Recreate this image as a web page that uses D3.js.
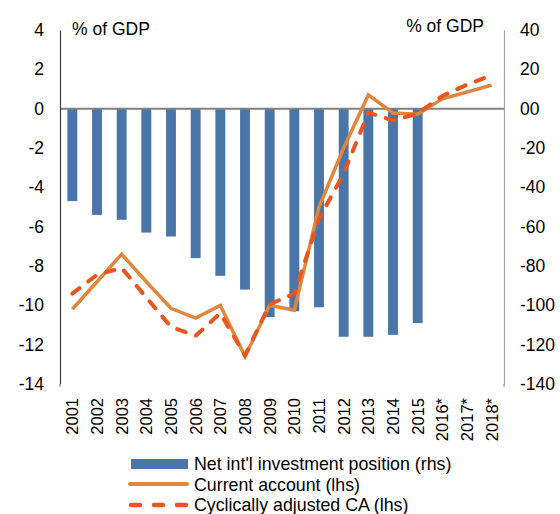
<!DOCTYPE html>
<html>
<head>
<meta charset="utf-8">
<script src="https://cdn.jsdelivr.net/npm/d3@7"></script>
<style>
body { margin: 0; background: #fff; }
svg text { font-family: "Liberation Sans", Arial, sans-serif; fill: #000; }
</style>
</head>
<body>
<div id="chart"></div>
<script>
// values
let years = ["2001","2002","2003","2004","2005","2006","2007","2008","2009","2010","2011","2012","2013","2014","2015","2016*","2017*","2018*"];
let niip = [-47,-54,-56.5,-63,-65,-76,-85,-92,-106,-103,-101,-116,-116,-115,-109,null,null,null];
let currentAccount = [-10.2,-8.8,-7.4,-8.8,-10.15,-10.65,-10.0,-12.6,-10.0,-10.25,-5.0,-2.0,0.7,-0.22,-0.28,0.5,0.85,1.2];
let cyclicalCA = [-9.4,-8.45,-8.1,-9.6,-11.1,-11.55,-10.4,-12.55,-9.95,-9.4,-5.6,-3.3,-0.2,-0.6,-0.25,0.65,1.22,1.7];
let leftTicks = [4,2,0,-2,-4,-6,-8,-10,-12,-14];
let rightTicks = [40,20,0,-20,-40,-60,-80,-100,-120,-140];
let rightTickLabels = ["40","20","00","-20","-40","-60","-80","-100","-120","-140"];
let legendItems = ["Net int'l investment position (rhs)", "Current account (lhs)", "Cyclically adjusted CA (lhs)"];

let width = 560, height = 514;
let plotLeft = 60, plotRight = 504, plotTop = 30, plotBottom = 384;

let svg = d3.select("#chart").append("svg")
.attr("width", width)
.attr("height", height);

let x = d3.scaleBand()
.domain(years)
.range([plotLeft, plotRight])
.padding(0);

let yL = d3.scaleLinear().domain([-14, 4]).range([plotBottom, plotTop]);
let yR = d3.scaleLinear().domain([-140, 40]).range([plotBottom, plotTop]);

// bars
let barW = x.bandwidth() * 0.4;
svg.selectAll("rect.bar")
.data(years.map((d, i) => ({ year: d, v: niip[i] })).filter(d => d.v != null))
.enter()
.append("rect")
.attr("class", "bar")
.attr("x", d => x(d.year) + x.bandwidth() / 2 - barW / 2)
.attr("y", yR(0))
.attr("width", barW)
.attr("height", d => yR(d.v) - yR(0))
.attr("fill", "#4a75a8");

// zero line
svg.append("line")
.attr("x1", plotLeft).attr("x2", plotRight)
.attr("y1", yL(0)).attr("y2", yL(0))
.attr("stroke", "#808080")
.attr("stroke-width", 2);

// axes
let axisL = d3.axisLeft(yL).tickValues(leftTicks).tickSize(0).tickPadding(16).tickFormat(d => String(d));
let gL = svg.append("g").attr("transform", `translate(${plotLeft},0)`).call(axisL);
gL.select(".domain").attr("stroke", "#404040").attr("stroke-width", 1.2);
gL.selectAll("text").style("font-size", "17.5px").attr("font-family", null);

let axisR = d3.axisRight(yR).tickValues(rightTicks).tickSize(0).tickPadding(16)
.tickFormat((d, i) => rightTickLabels[i]);
let gR = svg.append("g").attr("transform", `translate(${plotRight},0)`).call(axisR);
gR.select(".domain").attr("stroke", "#a6a6a6").attr("stroke-width", 1.2);
gR.selectAll("text").style("font-size", "17.5px").attr("font-family", null);

// small end ticks at the bottom
[plotLeft, plotRight].forEach(px => {
	svg.append("line").attr("x1", px).attr("x2", px).attr("y1", plotBottom).attr("y2", plotBottom + 3)
	.attr("stroke", "#808080");
});

// x labels
svg.selectAll("text.year")
.data(years)
.enter()
.append("text")
.attr("class", "year")
.attr("transform", d => `translate(${x(d) + x.bandwidth() / 2 + 6},398) rotate(-90)`)
.attr("text-anchor", "end")
.style("font-size", "16.5px")
.text(d => d);

// lines
let lineL = d3.line()
.x((d, i) => x(years[i]) + x.bandwidth() / 2)
.y(d => yL(d));

svg.append("path")
.datum(currentAccount)
.attr("d", lineL)
.attr("fill", "none")
.attr("stroke", "#e0873b")
.attr("stroke-width", 3.5)
.attr("stroke-linejoin", "miter");

svg.append("path")
.datum(cyclicalCA)
.attr("d", lineL)
.attr("fill", "none")
.attr("stroke", "#e9561f")
.attr("stroke-width", 4)
.attr("stroke-linecap", "round")
.attr("stroke-dasharray", "9,11");

// unit titles
svg.append("text").attr("x", 72).attr("y", 35).style("font-size", "17.5px").text("% of GDP");
svg.append("text").attr("x", 484).attr("y", 32).attr("text-anchor", "end").style("font-size", "17.5px").text("% of GDP");

// legend
let lg = svg.append("g");
lg.append("rect").attr("x", 131).attr("y", 459).attr("width", 57).attr("height", 10).attr("fill", "#4a75a8");
lg.append("line").attr("x1", 130).attr("x2", 187).attr("y1", 484).attr("y2", 484)
.attr("stroke", "#e0873b").attr("stroke-width", 4).attr("stroke-linecap", "round");
lg.append("line").attr("x1", 131).attr("x2", 187).attr("y1", 505).attr("y2", 505)
.attr("stroke", "#e9561f").attr("stroke-width", 4.5).attr("stroke-linecap", "round")
.attr("stroke-dasharray", "9,14");

lg.selectAll("text")
.data(legendItems)
.enter()
.append("text")
.attr("x", 194)
.attr("y", (d, i) => 470 + i * 20.7)
.style("font-size", "17.8px")
.text(d => d);
</script>
</body>
</html>
